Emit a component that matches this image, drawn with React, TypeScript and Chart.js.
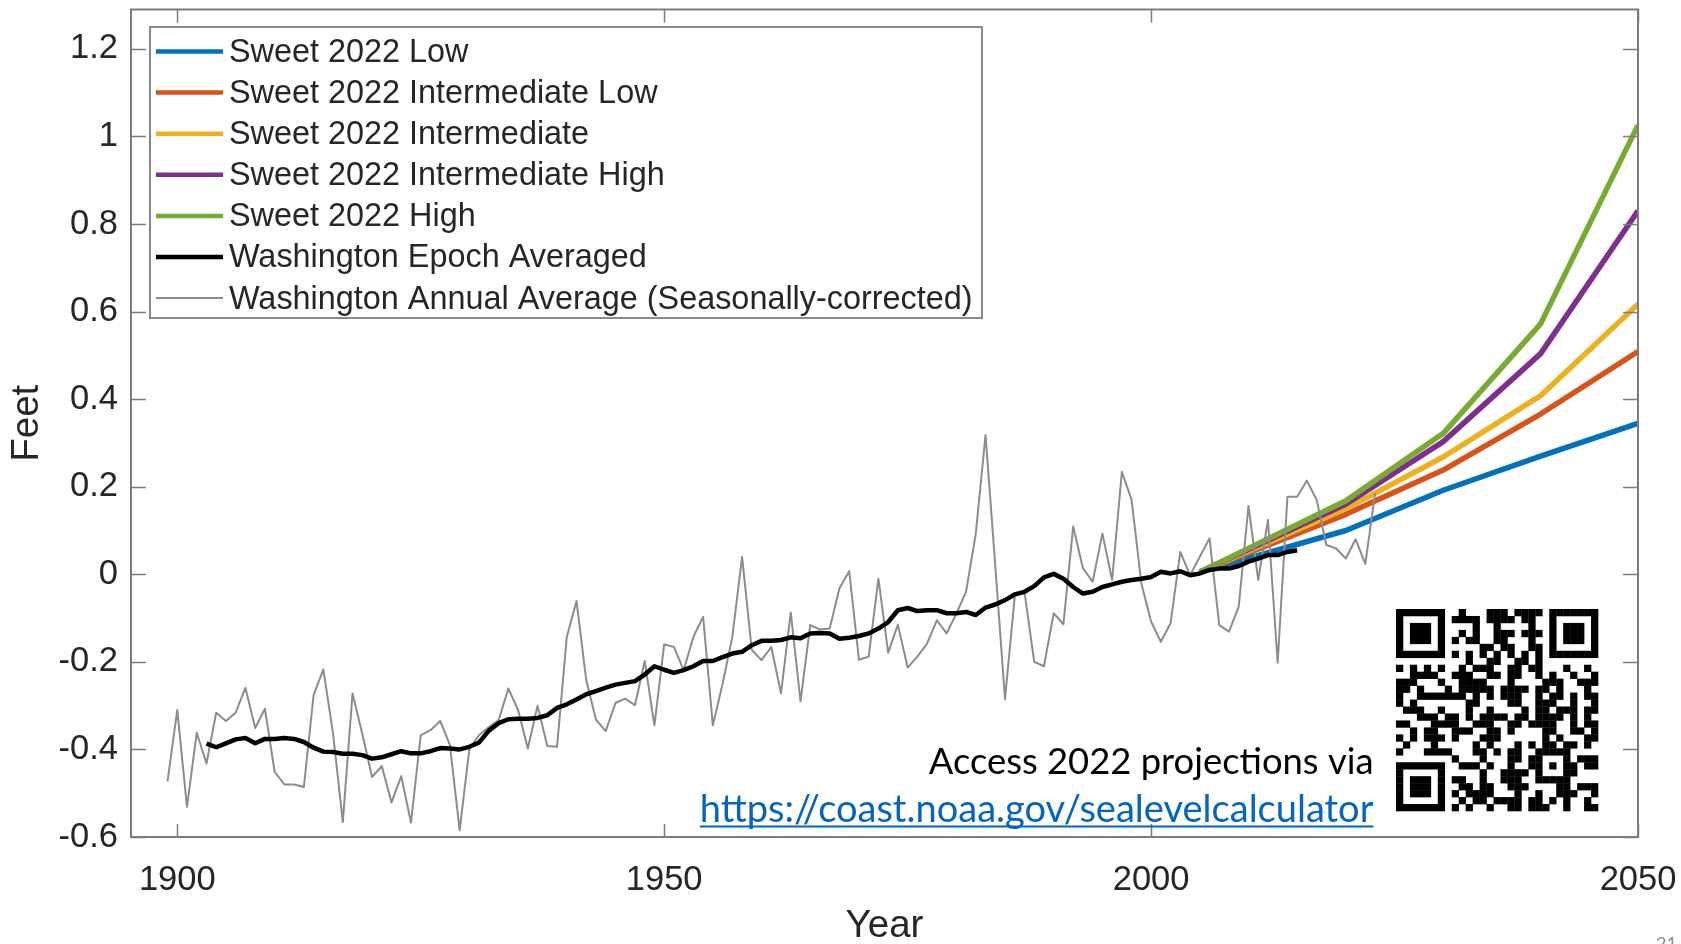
import React, { useEffect, useRef } from 'react';
import { Chart, registerables } from 'chart.js';

Chart.register(...registerables);

// ---------------- data ----------------
const X_TICKS = [1900, 1950, 2000, 2050];
const Y_TICKS = [-0.6, -0.4, -0.2, 0, 0.2, 0.4, 0.6, 0.8, 1, 1.2];

const PROJECTION_YEARS = [2005, 2020, 2030, 2040, 2050];
const SWEET_LOW = [0.005, 0.1, 0.192, 0.27, 0.345];
const SWEET_INT_LOW = [0.005, 0.137, 0.238, 0.366, 0.509];
const SWEET_INT = [0.005, 0.15, 0.268, 0.408, 0.617];
const SWEET_INT_HIGH = [0.005, 0.16, 0.303, 0.504, 0.83];
const SWEET_HIGH = [0.005, 0.168, 0.322, 0.572, 1.026];

const EPOCH_FIRST_YEAR = 1903;
const EPOCH_VALUES = [
  -0.387, -0.395, -0.386, -0.377, -0.374, -0.386, -0.376, -0.376, -0.374, -0.376,
  -0.383, -0.396, -0.405, -0.406, -0.41, -0.41, -0.413, -0.421, -0.418, -0.411,
  -0.404, -0.409, -0.409, -0.404, -0.397, -0.398, -0.4, -0.394, -0.384, -0.357,
  -0.34, -0.331, -0.33, -0.33, -0.328, -0.322, -0.305, -0.297, -0.286, -0.274,
  -0.267, -0.259, -0.252, -0.248, -0.244, -0.229, -0.21, -0.218, -0.225, -0.219,
  -0.21, -0.198, -0.198, -0.189, -0.181, -0.177, -0.162, -0.152, -0.152, -0.15,
  -0.144, -0.146, -0.135, -0.134, -0.135, -0.147, -0.145, -0.141, -0.135, -0.124,
  -0.109, -0.082, -0.077, -0.084, -0.082, -0.082, -0.089, -0.089, -0.086, -0.093,
  -0.076, -0.069, -0.059, -0.046, -0.04, -0.027, -0.007, 0.001, -0.01, -0.029,
  -0.044, -0.04, -0.029, -0.023, -0.017, -0.013, -0.01, -0.006, 0.006, 0.002,
  0.007, -0.002, 0.002, 0.01, 0.013, 0.013, 0.019, 0.029, 0.036, 0.044,
  0.044, 0.051, 0.055,
];

const ANNUAL_FIRST_YEAR = 1899;
const ANNUAL_VALUES = [
  -0.473, -0.31, -0.531, -0.362, -0.432, -0.316, -0.335, -0.316, -0.259, -0.351,
  -0.307, -0.451, -0.48, -0.48, -0.486, -0.276, -0.217, -0.364, -0.566, -0.272,
  -0.364, -0.463, -0.438, -0.521, -0.461, -0.567, -0.368, -0.356, -0.335, -0.39,
  -0.585, -0.398, -0.367, -0.349, -0.333, -0.261, -0.31, -0.398, -0.3, -0.392,
  -0.394, -0.143, -0.061, -0.242, -0.332, -0.358, -0.294, -0.284, -0.299, -0.198,
  -0.345, -0.16, -0.166, -0.219, -0.143, -0.097, -0.345, -0.25, -0.143, 0.04,
  -0.173, -0.196, -0.166, -0.272, -0.087, -0.29, -0.116, -0.126, -0.124, -0.032,
  0.007, -0.195, -0.188, -0.01, -0.179, -0.115, -0.213, -0.188, -0.158, -0.105,
  -0.135, -0.09, -0.04, 0.093, 0.318, 0.02, -0.285, -0.05, -0.04, -0.2,
  -0.21, -0.089, -0.114, 0.109, 0.014, -0.017, 0.093, -0.013, 0.234, 0.17,
  -0.021, -0.108, -0.154, -0.112, 0.051, -0.002, 0.04, 0.082, -0.116, -0.131,
  -0.074, 0.156, -0.013, 0.124, -0.202, 0.177, 0.177, 0.214, 0.17, 0.067,
  0.059, 0.036, 0.08, 0.024, 0.185,
];

const SERIES_LABELS = [
  'Sweet 2022 Low',
  'Sweet 2022 Intermediate Low',
  'Sweet 2022 Intermediate',
  'Sweet 2022 Intermediate High',
  'Sweet 2022 High',
  'Washington Epoch Averaged',
  'Washington Annual Average (Seasonally-corrected)',
];

const ANNOT_LINE = 'Access 2022 projections via';
const LINK_TEXT = 'https://coast.noaa.gov/sealevelcalculator';
const PAGE_NUMBER = '21';

// ---------------- styles ----------------
const AXIS_FONT = '"Liberation Sans", Arial, sans-serif';
const ANNOT_FONT = 'Lato, "Open Sans", sans-serif';
const TEXT_COLOR = '#262626';
const FRAME_COLOR = '#7c7c7c';

// ---------------- QR encoder (byte mode, ECC M) ----------------
function qrMatrix(text: string): boolean[][] {
  const bytes = Array.from(new TextEncoder().encode(text));
  const ECC_PER_BLOCK = [-1, 10, 16, 26, 18, 24, 16, 18, 22, 22, 26];
  const NUM_BLOCKS = [-1, 1, 1, 1, 2, 2, 4, 4, 4, 5, 5];
  const rawModules = (v: number) => {
    let r = (16 * v + 128) * v + 64;
    if (v >= 2) {
      const n = Math.floor(v / 7) + 2;
      r -= (25 * n - 10) * n - 55;
      if (v >= 7) r -= 36;
    }
    return r;
  };
  const dataCap = (v: number) => Math.floor(rawModules(v) / 8) - ECC_PER_BLOCK[v] * NUM_BLOCKS[v];
  let ver = 1;
  for (; ver < 10; ver++) {
    if (4 + 8 + bytes.length * 8 <= dataCap(ver) * 8) break;
  }
  const bits: number[] = [];
  const push = (val: number, len: number) => {
    for (let i = len - 1; i >= 0; i--) bits.push((val >>> i) & 1);
  };
  push(4, 4);
  push(bytes.length, 8);
  bytes.forEach((b) => push(b, 8));
  const capBits = dataCap(ver) * 8;
  push(0, Math.min(4, capBits - bits.length));
  push(0, (8 - (bits.length % 8)) % 8);
  for (let pad = 0xec; bits.length < capBits; pad ^= 0xec ^ 0x11) push(pad, 8);
  const data: number[] = [];
  for (let i = 0; i < bits.length; i += 8) {
    let b = 0;
    for (let j = 0; j < 8; j++) b = (b << 1) | bits[i + j];
    data.push(b);
  }
  const mul = (x: number, y: number) => {
    let z = 0;
    for (let i = 7; i >= 0; i--) {
      z = (z << 1) ^ ((z >>> 7) * 0x11d);
      z ^= ((y >>> i) & 1) * x;
    }
    return z;
  };
  const rsDivisor = (degree: number) => {
    const res: number[] = new Array(degree).fill(0);
    res[degree - 1] = 1;
    let root = 1;
    for (let i = 0; i < degree; i++) {
      for (let j = 0; j < res.length; j++) {
        res[j] = mul(res[j], root);
        if (j + 1 < res.length) res[j] ^= res[j + 1];
      }
      root = mul(root, 2);
    }
    return res;
  };
  const rsRemainder = (dat: number[], div: number[]) => {
    const res: number[] = div.map(() => 0);
    for (const b of dat) {
      const factor = b ^ (res.shift() as number);
      res.push(0);
      div.forEach((c, i) => (res[i] ^= mul(c, factor)));
    }
    return res;
  };
  const numBlocks = NUM_BLOCKS[ver];
  const eccLen = ECC_PER_BLOCK[ver];
  const rawCw = Math.floor(rawModules(ver) / 8);
  const numShort = numBlocks - (rawCw % numBlocks);
  const shortLen = Math.floor(rawCw / numBlocks);
  const div = rsDivisor(eccLen);
  const blocks: number[][] = [];
  for (let i = 0, k = 0; i < numBlocks; i++) {
    const dat = data.slice(k, k + shortLen - eccLen + (i < numShort ? 0 : 1));
    k += dat.length;
    const ecc = rsRemainder(dat, div);
    if (i < numShort) dat.push(0);
    blocks.push(dat.concat(ecc));
  }
  const all: number[] = [];
  for (let i = 0; i < blocks[0].length; i++) {
    blocks.forEach((blk, j) => {
      if (i !== shortLen - eccLen || j >= numShort) all.push(blk[i]);
    });
  }
  const size = ver * 4 + 17;
  const mods: boolean[][] = [];
  const isFn: boolean[][] = [];
  for (let y = 0; y < size; y++) {
    mods.push(new Array(size).fill(false));
    isFn.push(new Array(size).fill(false));
  }
  const setFn = (x: number, y: number, d: boolean) => {
    mods[y][x] = d;
    isFn[y][x] = true;
  };
  for (let i = 0; i < size; i++) {
    setFn(6, i, i % 2 === 0);
    setFn(i, 6, i % 2 === 0);
  }
  const finder = (cx: number, cy: number) => {
    for (let dy = -4; dy <= 4; dy++)
      for (let dx = -4; dx <= 4; dx++) {
        const d = Math.max(Math.abs(dx), Math.abs(dy));
        const xx = cx + dx, yy = cy + dy;
        if (xx >= 0 && xx < size && yy >= 0 && yy < size) setFn(xx, yy, d !== 2 && d !== 4);
      }
  };
  finder(3, 3);
  finder(size - 4, 3);
  finder(3, size - 4);
  const alignPos: number[] = [];
  if (ver > 1) {
    const n = Math.floor(ver / 7) + 2;
    const step = Math.ceil((ver * 4 + 4) / (n * 2 - 2)) * 2;
    alignPos.push(6);
    for (let pos = size - 7; alignPos.length < n; pos -= step) alignPos.splice(1, 0, pos);
  }
  const na = alignPos.length;
  for (let i = 0; i < na; i++)
    for (let j = 0; j < na; j++) {
      if ((i === 0 && j === 0) || (i === 0 && j === na - 1) || (i === na - 1 && j === 0)) continue;
      for (let dy = -2; dy <= 2; dy++)
        for (let dx = -2; dx <= 2; dx++)
          setFn(alignPos[i] + dx, alignPos[j] + dy, Math.max(Math.abs(dx), Math.abs(dy)) !== 1);
    }
  const gb = (x: number, i: number) => ((x >>> i) & 1) !== 0;
  const formatBits = (mask: number) => {
    const d = (0 << 3) | mask;
    let rem = d;
    for (let i = 0; i < 10; i++) rem = (rem << 1) ^ ((rem >>> 9) * 0x537);
    const b = ((d << 10) | rem) ^ 0x5412;
    for (let i = 0; i <= 5; i++) setFn(8, i, gb(b, i));
    setFn(8, 7, gb(b, 6));
    setFn(8, 8, gb(b, 7));
    setFn(7, 8, gb(b, 8));
    for (let i = 9; i < 15; i++) setFn(14 - i, 8, gb(b, i));
    for (let i = 0; i < 8; i++) setFn(size - 1 - i, 8, gb(b, i));
    for (let i = 8; i < 15; i++) setFn(8, size - 15 + i, gb(b, i));
    setFn(8, size - 8, true);
  };
  formatBits(0);
  let bi = 0;
  for (let right = size - 1; right >= 1; right -= 2) {
    if (right === 6) right = 5;
    for (let vert = 0; vert < size; vert++) {
      for (let j = 0; j < 2; j++) {
        const x = right - j;
        const upward = ((right + 1) & 2) === 0;
        const y = upward ? size - 1 - vert : vert;
        if (!isFn[y][x] && bi < all.length * 8) {
          mods[y][x] = gb(all[bi >>> 3], 7 - (bi & 7));
          bi++;
        }
      }
    }
  }
  const maskFn = (m: number, x: number, y: number) => {
    switch (m) {
      case 0: return (x + y) % 2 === 0;
      case 1: return y % 2 === 0;
      case 2: return x % 3 === 0;
      case 3: return (x + y) % 3 === 0;
      case 4: return (Math.floor(x / 3) + Math.floor(y / 2)) % 2 === 0;
      case 5: return ((x * y) % 2) + ((x * y) % 3) === 0;
      case 6: return (((x * y) % 2) + ((x * y) % 3)) % 2 === 0;
      default: return (((x + y) % 2) + ((x * y) % 3)) % 2 === 0;
    }
  };
  const applyMask = (m: number) => {
    for (let y = 0; y < size; y++)
      for (let x = 0; x < size; x++) if (!isFn[y][x] && maskFn(m, x, y)) mods[y][x] = !mods[y][x];
  };
  const lineScore = (line: boolean[]) => {
    let s = 0;
    let run = 1;
    for (let i = 1; i <= line.length; i++) {
      if (i < line.length && line[i] === line[i - 1]) run++;
      else {
        if (run >= 5) s += 3 + run - 5;
        run = 1;
      }
    }
    const p = [false, false, false, false, ...line, false, false, false, false];
    const pat = [true, false, true, true, true, false, true];
    for (let i = 0; i + 11 <= p.length; i++) {
      if (!p[i] && !p[i + 1] && !p[i + 2] && !p[i + 3] && pat.every((v, k) => p[i + 4 + k] === v)) s += 40;
      if (pat.every((v, k) => p[i + k] === v) && !p[i + 7] && !p[i + 8] && !p[i + 9] && !p[i + 10]) s += 40;
    }
    return s;
  };
  const penalty = () => {
    let s = 0;
    for (let y = 0; y < size; y++) s += lineScore(mods[y]);
    for (let x = 0; x < size; x++) s += lineScore(mods.map((r) => r[x]));
    for (let y = 0; y < size - 1; y++)
      for (let x = 0; x < size - 1; x++) {
        const c = mods[y][x];
        if (c === mods[y][x + 1] && c === mods[y + 1][x] && c === mods[y + 1][x + 1]) s += 3;
      }
    let dark = 0;
    mods.forEach((r) => r.forEach((v) => (dark += v ? 1 : 0)));
    const total = size * size;
    const k = Math.ceil(Math.abs(dark * 20 - total * 10) / total) - 1;
    s += k * 10;
    return s;
  };
  let best = 0;
  let bestScore = Infinity;
  for (let m = 0; m < 8; m++) {
    applyMask(m);
    formatBits(m);
    const sc = penalty();
    if (sc < bestScore) {
      bestScore = sc;
      best = m;
    }
    applyMask(m);
  }
  applyMask(best);
  formatBits(best);
  return mods;
}

const QR = qrMatrix(LINK_TEXT);

// ---------------- helpers ----------------
const toPoints = (xs: number[], ys: number[]) => ys.map((y, i) => ({ x: xs[i], y }));
const seq = (first: number, vals: number[]) => vals.map((y, i) => ({ x: first + i, y }));
const fmtTick = (v: number) => {
  const r = Math.round(v * 10) / 10;
  return r === 0 ? '0' : String(r);
};

const fitFont = (ctx: CanvasRenderingContext2D, text: string, width: number) => {
  ctx.font = `100px ${ANNOT_FONT}`;
  const w = ctx.measureText(text).width;
  return (100 * width) / w;
};

const decorPlugin = {
  id: 'decor',
  afterDraw(chart: any) {
    const { ctx, chartArea } = chart;
    const { left, right, top, bottom } = chartArea;
    const xs = chart.scales.x;
    const ys = chart.scales.y;
    ctx.save();

    // frame
    ctx.strokeStyle = FRAME_COLOR;
    ctx.lineWidth = 2;
    ctx.strokeRect(left, top, right - left, bottom - top);

    // inward ticks
    ctx.lineWidth = 1.5;
    ctx.beginPath();
    Y_TICKS.forEach((v) => {
      const py = Math.round(ys.getPixelForValue(v)) + 0.5;
      ctx.moveTo(left, py);
      ctx.lineTo(left + 15, py);
      ctx.moveTo(right, py);
      ctx.lineTo(right - 15, py);
    });
    X_TICKS.forEach((v) => {
      const px = Math.round(xs.getPixelForValue(v)) + 0.5;
      ctx.moveTo(px, bottom);
      ctx.lineTo(px, bottom - 13);
      ctx.moveTo(px, top);
      ctx.lineTo(px, top + 13);
    });
    ctx.stroke();

    // legend
    const lx = 150, ly = 27, lw = 832, lh = 291;
    ctx.fillStyle = '#ffffff';
    ctx.fillRect(lx, ly, lw, lh);
    ctx.strokeStyle = '#8a8a8a';
    ctx.lineWidth = 2;
    ctx.strokeRect(lx, ly, lw, lh);
    ctx.font = `32.4px ${AXIS_FONT}`;
    ctx.textBaseline = 'middle';
    ctx.textAlign = 'left';
    chart.data.datasets.forEach((ds: any, i: number) => {
      const cy = 51.5 + i * 41.1;
      ctx.strokeStyle = ds.borderColor;
      ctx.lineWidth = Math.min(ds.borderWidth, 4.5);
      ctx.beginPath();
      ctx.moveTo(156, cy);
      ctx.lineTo(223, cy);
      ctx.stroke();
      ctx.fillStyle = TEXT_COLOR;
      ctx.fillText(ds.label, 229, cy + 1.5);
    });

    // annotation text
    ctx.textBaseline = 'alphabetic';
    ctx.textAlign = 'right';
    const fs1 = fitFont(ctx, ANNOT_LINE, 445);
    ctx.font = `${fs1}px ${ANNOT_FONT}`;
    ctx.fillStyle = '#000000';
    ctx.fillText(ANNOT_LINE, 1373.5, 774);
    const fs2 = fitFont(ctx, LINK_TEXT, 674);
    ctx.font = `${fs2}px ${ANNOT_FONT}`;
    ctx.fillStyle = '#0563C1';
    ctx.fillText(LINK_TEXT, 1373.5, 822);
    const lwid = ctx.measureText(LINK_TEXT).width;
    ctx.fillRect(1373.5 - lwid, 825.5, lwid, 2);

    // QR code
    const n = QR.length;
    const qx = 1396, qy = 609, qs = 202;
    const m = qs / n;
    ctx.fillStyle = '#000000';
    for (let y = 0; y < n; y++)
      for (let x = 0; x < n; x++)
        if (QR[y][x]) ctx.fillRect(qx + x * m, qy + y * m, m + 0.3, m + 0.3);

    // page number
    ctx.font = `18px ${ANNOT_FONT}`;
    ctx.textAlign = 'left';
    ctx.fillStyle = '#8a8a8a';
    ctx.fillText(PAGE_NUMBER, 1656, 950);

    ctx.restore();
  },
};

export default function App() {
  const ref = useRef<HTMLCanvasElement | null>(null);
  useEffect(() => {
    if (!ref.current) return;
    const proj = (label: string, vals: number[], color: string, order: number) => ({
      label,
      data: toPoints(PROJECTION_YEARS, vals),
      borderColor: color,
      backgroundColor: color,
      borderWidth: 5.5,
      order,
    });
    const chart = new Chart(ref.current, {
      type: 'line',
      data: {
        datasets: [
          proj(SERIES_LABELS[0], SWEET_LOW, '#0072BD', 5),
          proj(SERIES_LABELS[1], SWEET_INT_LOW, '#D95319', 4),
          proj(SERIES_LABELS[2], SWEET_INT, '#EDB120', 3),
          proj(SERIES_LABELS[3], SWEET_INT_HIGH, '#7E2F8E', 2),
          proj(SERIES_LABELS[4], SWEET_HIGH, '#77AC30', 1),
          {
            label: SERIES_LABELS[5],
            data: seq(EPOCH_FIRST_YEAR, EPOCH_VALUES),
            borderColor: '#000000',
            backgroundColor: '#000000',
            borderWidth: 4.5,
            order: -2,
          },
          {
            label: SERIES_LABELS[6],
            data: seq(ANNUAL_FIRST_YEAR, ANNUAL_VALUES),
            borderColor: '#8c8c8c',
            backgroundColor: '#8c8c8c',
            borderWidth: 2,
            order: -1,
          },
        ],
      },
      options: {
        animation: false,
        responsive: false,
        devicePixelRatio: 1,
        layout: { padding: { left: 0, top: 9.5, right: 43, bottom: 0 } },
        elements: {
          point: { radius: 0, hoverRadius: 0 },
          line: { tension: 0, borderJoinStyle: 'round', borderCapStyle: 'butt' },
        },
        plugins: {
          legend: { display: false },
          tooltip: { enabled: false },
          title: { display: false },
        },
        scales: {
          x: {
            type: 'linear',
            min: 1895.25,
            max: 2050,
            grid: { display: false, drawTicks: false },
            border: { display: false },
            afterBuildTicks: (s: any) => {
              s.ticks = X_TICKS.map((v) => ({ value: v }));
            },
            afterFit: (s: any) => {
              s.height = 107;
              s.paddingLeft = 0;
              s.paddingRight = 0;
            },
            ticks: {
              color: TEXT_COLOR,
              font: { family: AXIS_FONT, size: 34.5 },
              padding: 23,
              maxRotation: 0,
              autoSkip: false,
              callback: (v: any) => String(v),
            },
            title: {
              display: true,
              text: 'Year',
              color: TEXT_COLOR,
              font: { family: AXIS_FONT, size: 38.5 },
              padding: { top: 0, bottom: -5 },
            },
          },
          y: {
            type: 'linear',
            min: -0.6,
            max: 1.29,
            grid: { display: false, drawTicks: false },
            border: { display: false },
            afterBuildTicks: (s: any) => {
              s.ticks = Y_TICKS.map((v) => ({ value: v }));
            },
            afterFit: (s: any) => {
              s.width = 131;
              s.paddingTop = 0;
              s.paddingBottom = 0;
            },
            ticks: {
              color: TEXT_COLOR,
              font: { family: AXIS_FONT, size: 34.5 },
              padding: 13,
              autoSkip: false,
              callback: (v: any) => fmtTick(Number(v)),
            },
            title: {
              display: true,
              text: 'Feet',
              color: TEXT_COLOR,
              font: { family: AXIS_FONT, size: 38.5 },
              padding: { top: 4, bottom: 0 },
            },
          },
        },
      },
      plugins: [decorPlugin],
    } as any);
    return () => chart.destroy();
  }, []);
  return (
    <div style={{ position: 'absolute', left: 0, top: 0, width: 1681, height: 944, background: '#ffffff' }}>
      <canvas ref={ref} width={1681} height={944} style={{ display: 'block' }} />
    </div>
  );
}
